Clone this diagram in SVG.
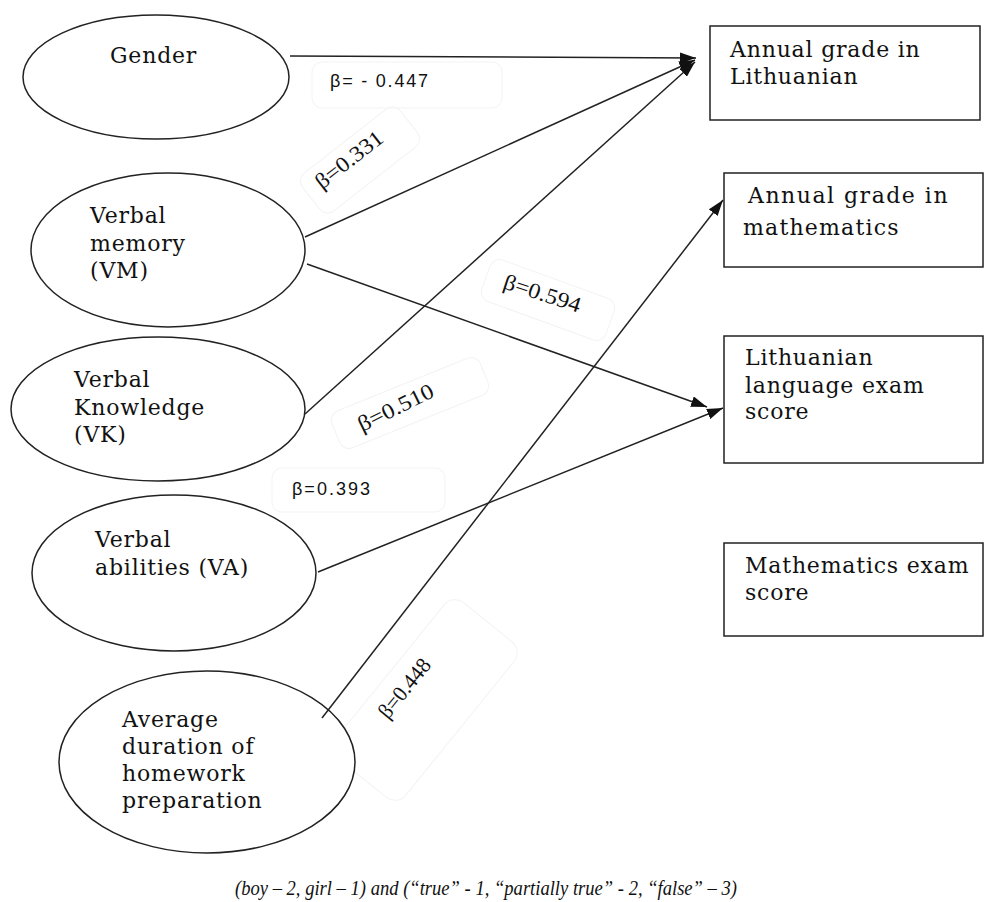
<svg xmlns="http://www.w3.org/2000/svg" width="984" height="902" viewBox="0 0 984 902">
<style>
.node ellipse, .node rect { fill: #fff; stroke: #222; stroke-width: 1.5; }
.nt { font-family: "DejaVu Serif", "Liberation Serif", serif; font-size: 22px; fill: #111; letter-spacing: 0.8px; }
.conn path { fill: none; stroke: #222; stroke-width: 1.5; }
.lbox { fill: none; stroke: #f3f3f3; stroke-width: 1; }
.ls { font-family: "Liberation Sans", Arial, sans-serif; font-size: 18px; fill: #111; }
.lr { font-family: "Liberation Serif", "Times New Roman", serif; font-size: 22px; fill: #111; }
.cap { font-family: "Liberation Serif", "Times New Roman", serif; font-size: 20px; font-style: italic; fill: #111; }
</style>
<defs>
<marker id="arr" viewBox="0 0 16 11" refX="16" refY="5.5" markerWidth="16" markerHeight="11" markerUnits="userSpaceOnUse" orient="auto">
<path d="M0,0 L16,5.5 L0,11 z" fill="#111"/>
</marker>
</defs>
<rect width="984" height="902" fill="#fff"/>

<g id="label-boxes">
<rect class="lbox" x="312" y="62" width="190" height="46" rx="10"/>
<rect class="lbox" x="-62" y="-24" width="124" height="48" rx="10" transform="translate(360,160) rotate(-38)"/>
<rect class="lbox" x="-66" y="-22" width="132" height="44" rx="10" transform="translate(548,300) rotate(20)"/>
<rect class="lbox" x="-80" y="-20" width="160" height="40" rx="10" transform="translate(410,403) rotate(-22)"/>
<rect class="lbox" x="272" y="468" width="173" height="44" rx="10"/>
<rect class="lbox" x="-100" y="-45" width="200" height="90" rx="14" transform="translate(425,700) rotate(-51)"/>
</g>

<g id="n-gender" class="node">
<ellipse cx="156" cy="77" rx="133" ry="62"/>
<text class="nt" x="110" y="63">Gender</text>
</g>
<g id="n-vm" class="node">
<ellipse cx="168" cy="250" rx="137" ry="77"/>
<text class="nt" x="90" y="223">Verbal</text>
<text class="nt" x="90" y="251">memory</text>
<text class="nt" x="90" y="278">(VM)</text>
</g>
<g id="n-vk" class="node">
<ellipse cx="158" cy="409" rx="147" ry="72"/>
<text class="nt" x="74" y="387">Verbal</text>
<text class="nt" x="74" y="415">Knowledge</text>
<text class="nt" x="74" y="442">(VK)</text>
</g>
<g id="n-va" class="node">
<ellipse cx="174" cy="573" rx="142" ry="78"/>
<text class="nt" x="95" y="547">Verbal</text>
<text class="nt" x="95" y="575">abilities (VA)</text>
</g>
<g id="n-hw" class="node">
<ellipse cx="207" cy="762" rx="148" ry="91"/>
<text class="nt" x="122" y="727">Average</text>
<text class="nt" x="122" y="754">duration of</text>
<text class="nt" x="122" y="781">homework</text>
<text class="nt" x="122" y="808">preparation</text>
</g>

<g id="n-lit-grade" class="node">
<rect x="710" y="26" width="270" height="94"/>
<text class="nt" x="730" y="57">Annual grade in</text>
<text class="nt" x="730" y="84">Lithuanian</text>
</g>
<g id="n-math-grade" class="node">
<rect x="724" y="173" width="259" height="94"/>
<text class="nt" x="748" y="203" style="letter-spacing:1.5px">Annual grade in</text>
<text class="nt" x="743" y="235" style="letter-spacing:1.2px">mathematics</text>
</g>
<g id="n-lit-exam" class="node">
<rect x="724" y="336" width="259" height="127"/>
<text class="nt" x="745" y="365">Lithuanian</text>
<text class="nt" x="745" y="393">language exam</text>
<text class="nt" x="745" y="419">score</text>
</g>
<g id="n-math-exam" class="node">
<rect x="724" y="543" width="259" height="93"/>
<text class="nt" x="745" y="573">Mathematics exam</text>
<text class="nt" x="745" y="600">score</text>
</g>

<g id="connectors" class="conn">
<path d="M290,56 L696,58" marker-end="url(#arr)"/>
<path d="M305,237 L695,60" marker-end="url(#arr)"/>
<path d="M305,414 L695,62" marker-end="url(#arr)"/>
<path d="M307,264 L707,407" marker-end="url(#arr)"/>
<path d="M318,572 L723,408" marker-end="url(#arr)"/>
<path d="M322,718 L723,200" marker-end="url(#arr)"/>
</g>

<g id="labels">
<text class="ls" font-size="19" x="330" y="87" textLength="98" lengthAdjust="spacing">β= - 0.447</text>
<text class="lr" transform="translate(322,190) rotate(-38)" textLength="80" lengthAdjust="spacingAndGlyphs">β=0.331</text>
<text class="lr" transform="translate(502,288) rotate(18)" textLength="80" lengthAdjust="spacingAndGlyphs">β=0.594</text>
<text class="lr" transform="translate(362,432) rotate(-26)" textLength="82" lengthAdjust="spacingAndGlyphs">β=0.510</text>
<text class="ls" x="292" y="495" textLength="78" lengthAdjust="spacing">β=0.393</text>
<text class="lr" font-size="19" transform="translate(388,720) rotate(-51)" textLength="70" lengthAdjust="spacingAndGlyphs">β=0.448</text>
</g>

<text class="cap" x="235" y="895" textLength="502" lengthAdjust="spacingAndGlyphs">(boy – 2, girl – 1) and (“true” - 1, “partially true” - 2, “false” – 3)</text>
</svg>
